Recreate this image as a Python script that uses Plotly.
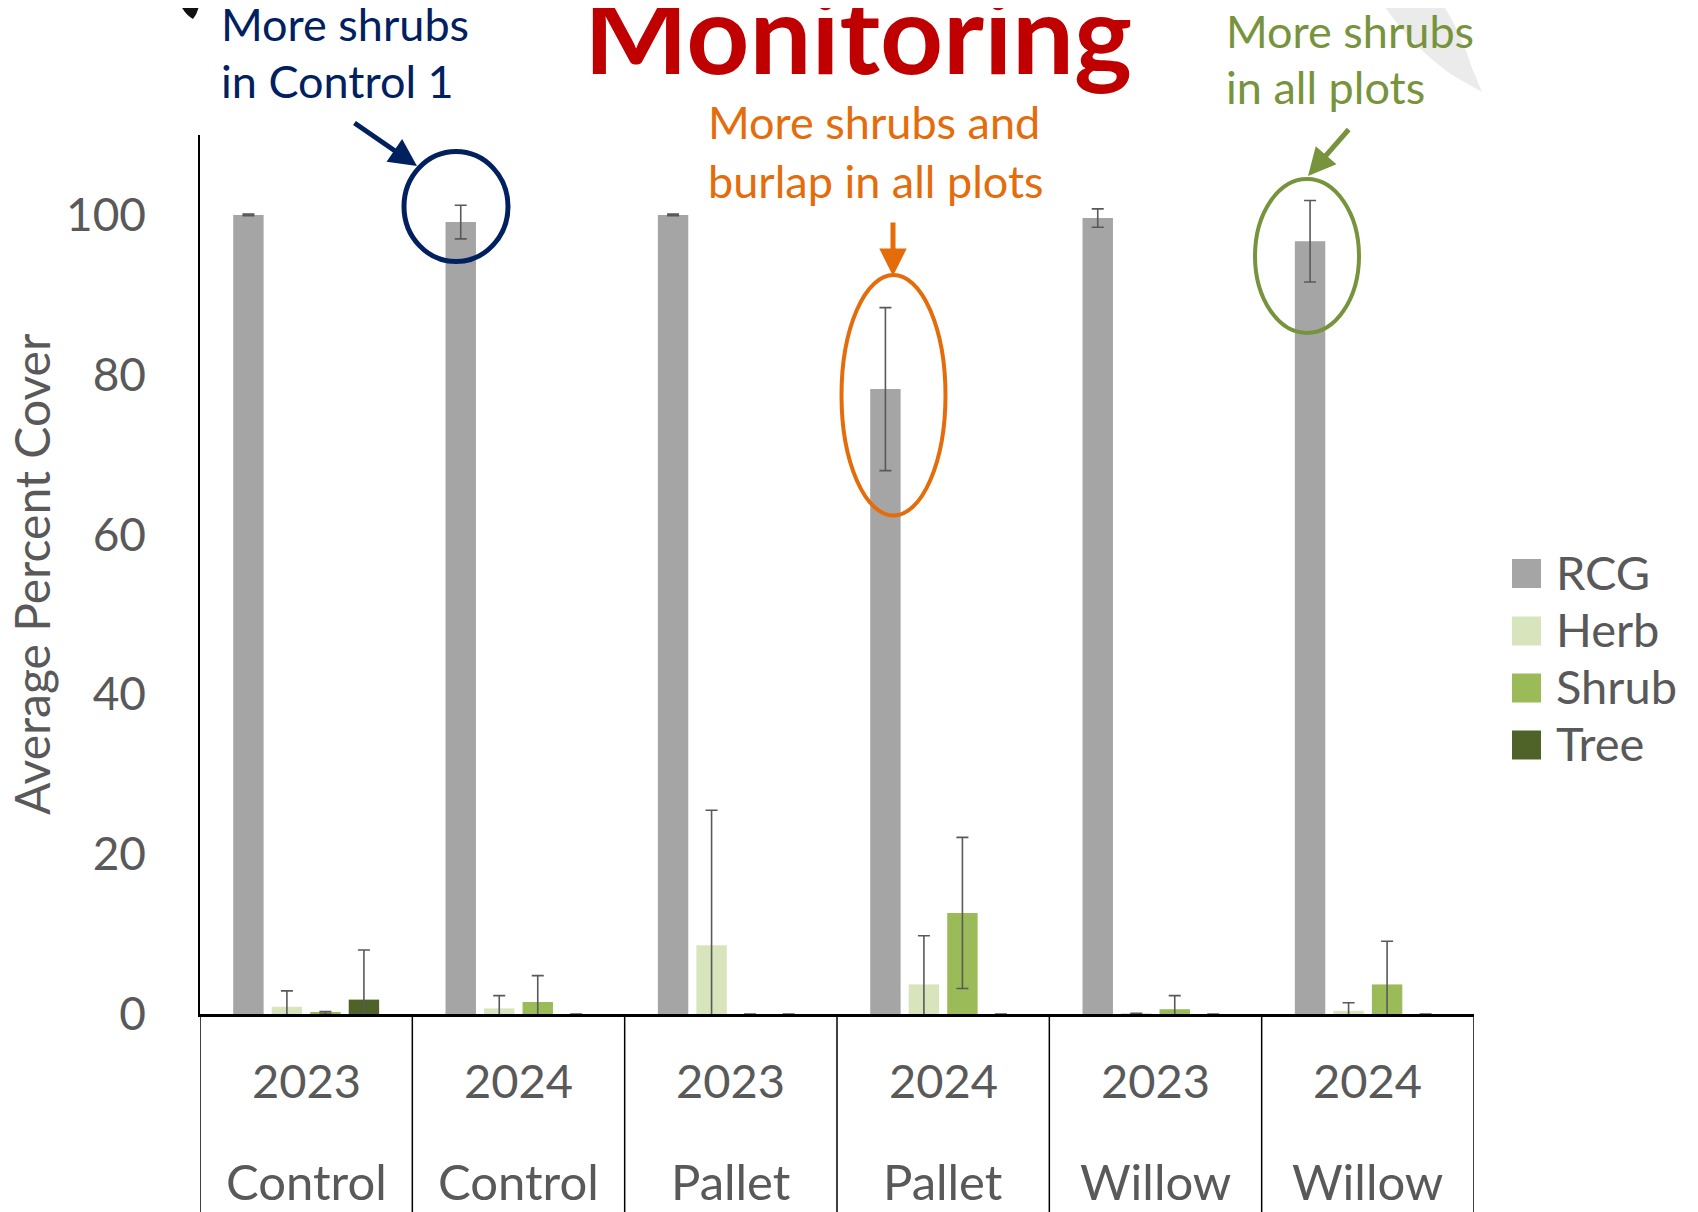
import plotly.graph_objects as go

# ---------------- data ----------------
years = ["2023", "2024", "2023", "2024", "2023", "2024"]
sites = ["Control", "Control", "Pallet", "Pallet", "Willow", "Willow"]
categories = [f"{s} {y}" for s, y in zip(sites, years)]

series_names = ["RCG", "Herb", "Shrub", "Tree"]
rcg = [100.0, 99.1, 100.0, 78.2, 99.6, 96.7]
rcg_err = [0.1, 2.1, 0.1, 10.2, 1.15, 5.1]
herb = [0.9, 0.7, 8.6, 3.7, 0.1, 0.4]
herb_err = [2.0, 1.6, 16.9, 6.1, None, 1.0]
shrub = [0.15, 1.5, 0.0, 12.65, 0.6, 3.7]
shrub_err = [0.15, 3.3, None, 9.45, 1.7, 5.4]
tree = [1.8, 0.0, 0.0, 0.0, 0.0, 0.0]
tree_err = [6.2, None, None, None, None, None]

y_ticks = [0, 20, 40, 60, 80, 100]

colors = ["#A5A5A5", "#D8E4BC", "#9BBB59", "#4F6228"]
values = [rcg, herb, shrub, tree]
errors = [rcg_err, herb_err, shrub_err, tree_err]

# ---------------- geometry helpers (screen pixels -> paper) ----------------
W, H = 1698, 1212
OFF = 8                      # page body margin
L, R, T, B = 200, 1474, 135, 1014   # plot area in screen pixels


def px(x):
    return (x - L) / (R - L)


def py(y):
    return (B - y) / (B - T)


FONT = "Lato"
GRAY = "#595959"
NAVY = "#002060"
ORANGE = "#E46C0A"
OLIVE = "#77933C"
RED = "#C00000"

fig = go.Figure()
for name, vals, errs, col in zip(series_names, values, errors, colors):
    fig.add_trace(go.Bar(
        x=categories, y=vals, name=name,
        marker=dict(color=col, line=dict(width=0)),
        error_y=dict(type="data", array=errs, visible=True,
                     color=GRAY, thickness=1.6, width=6),
        showlegend=False,
    ))

shapes = []
annotations = []

# category divider lines extending below the axis
for i in range(len(categories) + 1):
    shapes.append(dict(type="line", xref="x", yref="paper",
                       x0=i - 0.5, x1=i - 0.5, y0=0, y1=py(H + OFF + 2),
                       line=dict(color="black", width=1.5)))

# two-level category labels
for i, (yr, st) in enumerate(zip(years, sites)):
    annotations.append(dict(x=categories[i], xref="x", y=py(1080), yref="paper",
                            text=yr, showarrow=False, xanchor="center", yanchor="middle",
                            font=dict(family=FONT, size=47, color=GRAY)))
    annotations.append(dict(x=categories[i], xref="x", y=py(1181), yref="paper",
                            text=st, showarrow=False, xanchor="center", yanchor="middle",
                            font=dict(family=FONT, size=49, color=GRAY)))

# y-axis title
annotations.append(dict(x=px(31), y=py(574), xref="paper", yref="paper",
                        text="Average Percent Cover", textangle=-90, showarrow=False,
                        xanchor="center", yanchor="middle",
                        font=dict(family=FONT, size=48, color=GRAY)))

# custom legend
leg_y = [573.5, 631, 688, 745]
for name, col, yc in zip(series_names, colors, leg_y):
    shapes.append(dict(type="rect", xref="paper", yref="paper",
                       x0=px(1512), x1=px(1541), y0=py(yc + 14.5), y1=py(yc - 14.5),
                       fillcolor=col, line=dict(width=0)))
    annotations.append(dict(x=px(1554), y=py(yc - 2), xref="paper", yref="paper",
                            text=name, showarrow=False, xanchor="left", yanchor="middle",
                            font=dict(family=FONT, size=47, color=GRAY)))

# title (partially cropped at the top)
annotations.append(dict(x=px(858), y=py(31), xref="paper", yref="paper",
                        text="<b>Monitoring</b>", showarrow=False,
                        xanchor="center", yanchor="middle",
                        font=dict(family=FONT, size=110, color=RED)))

# callout texts


def callout(lines, x_left, baselines, color, size=45):
    for txt, bl in zip(lines, baselines):
        annotations.append(dict(x=px(x_left), y=py(bl - 0.36 * size), xref="paper", yref="paper",
                                text=txt, showarrow=False, xanchor="left", yanchor="middle",
                                font=dict(family=FONT, size=size, color=color)))


callout(["More shrubs", "in Control 1"], 219, [40, 97], NAVY)
callout(["More shrubs and", "burlap in all plots"], 706, [138, 197], ORANGE)
callout(["More shrubs", "in all plots"], 1224, [47, 103], OLIVE)

# ellipses
shapes.append(dict(type="circle", xref="paper", yref="paper",
                   x0=px(404), x1=px(508), y0=py(261.5), y1=py(151.5),
                   line=dict(color=NAVY, width=5)))
shapes.append(dict(type="circle", xref="paper", yref="paper",
                   x0=px(841.5), x1=px(945.5), y0=py(515.5), y1=py(275),
                   line=dict(color=ORANGE, width=4)))
shapes.append(dict(type="circle", xref="paper", yref="paper",
                   x0=px(1255), x1=px(1359), y0=py(333), y1=py(179),
                   line=dict(color=OLIVE, width=4)))

# arrows


def arrow(tail, tip, color, width=5):
    annotations.append(dict(x=px(tip[0]), y=py(tip[1]), xref="paper", yref="paper",
                            ax=tail[0] - tip[0], ay=tail[1] - tip[1],
                            axref="pixel", ayref="pixel",
                            text="", showarrow=True, arrowhead=2, arrowsize=1.1,
                            arrowwidth=width, arrowcolor=color))


arrow((353, 122), (417, 166), NAVY)
arrow((893, 221), (893, 276), ORANGE)
arrow((1350, 128), (1308, 176), OLIVE)

# decorative fragments of background images
shapes.append(dict(type="path", xref="paper", yref="paper", layer="below",
                   path=f"M {px(1380)} {py(0)} Q {px(1410)} {py(45)} {px(1452)} {py(75)} "
                        f"L {px(1482)} {py(92)} L {px(1472)} {py(68)} "
                        f"Q {px(1460)} {py(30)} {px(1440)} {py(0)} Z",
                   fillcolor="#EBEBEB", line=dict(width=0)))
shapes.append(dict(type="path", xref="paper", yref="paper",
                   path=f"M {px(178)} {py(0)} Q {px(184)} {py(14)} {px(193)} {py(19)} "
                        f"Q {px(200)} {py(10)} {px(199)} {py(0)} Z",
                   fillcolor="#111111", line=dict(width=0)))

fig.update_layout(
    width=W, height=H,
    margin=dict(l=L - OFF, r=W - (R - OFF), t=T - OFF, b=H - (B - OFF), autoexpand=False),
    paper_bgcolor="white", plot_bgcolor="white",
    barmode="group", bargap=0.2746, bargroupgap=0.21,
    showlegend=False,
    font=dict(family=FONT, color=GRAY),
    shapes=shapes, annotations=annotations,
    xaxis=dict(type="category", showticklabels=False, ticks="",
               showline=True, linecolor="black", linewidth=2.5,
               showgrid=False, zeroline=False, range=[-0.5, 5.5]),
    yaxis=dict(range=[0, 110], tickvals=y_ticks, ticks="",
               showline=True, linecolor="black", linewidth=1.5,
               showgrid=False, zeroline=False,
               ticklabelstandoff=43,
               tickfont=dict(family=FONT, size=46, color=GRAY)),
)

fig.write_html("out.html")
